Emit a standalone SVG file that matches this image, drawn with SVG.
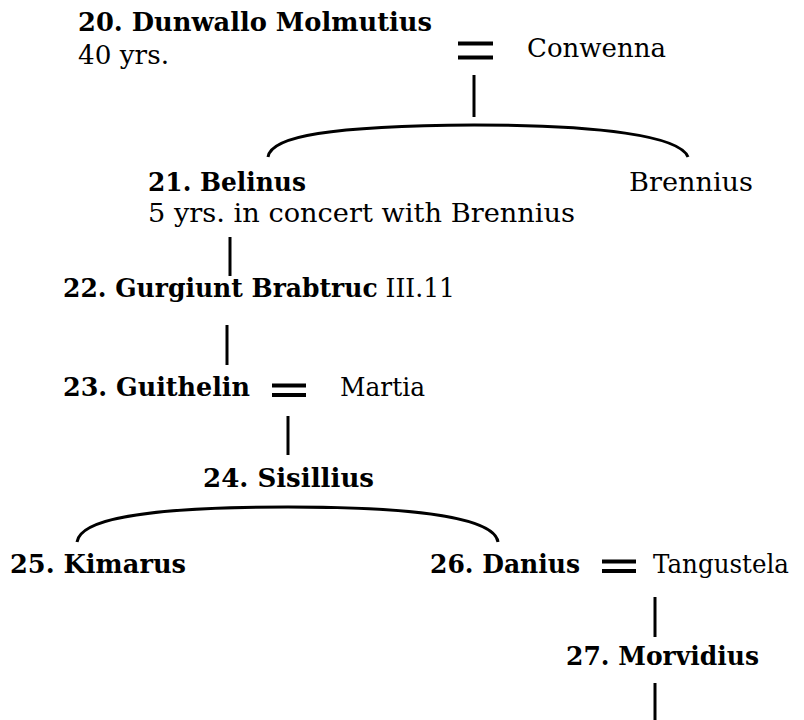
<svg xmlns="http://www.w3.org/2000/svg" width="804" height="720" viewBox="0 0 804 720">
<style>
text{font-family:"DejaVu Serif","Liberation Serif",serif;font-size:26px;fill:#000}
.b{font-weight:bold}
.ln{stroke:#000;stroke-width:3;fill:none}
.eq{stroke:#000;stroke-width:4;fill:none}
</style>
<rect width="804" height="720" fill="#fff"/>
<g id="connectors">
<path class="eq" d="M458,43.5H493M458,57.5H493"/>
<path class="ln" d="M474,75V117"/>
<path class="ln" d="M268,157C271,136 330,126 474,125C600,125 680,136 688,157"/>
<path class="ln" d="M230,237V276"/>
<path class="ln" d="M227,325V365"/>
<path class="eq" d="M272,385.5H306M272,395H306"/>
<path class="ln" d="M288,416V455"/>
<path class="ln" d="M77,542C80,520 140,507 288,507C430,507 495,520 498,542"/>
<path class="eq" d="M602,561.5H636M602,571H636"/>
<path class="ln" d="M655,597V637"/>
<path class="ln" d="M655,683V720"/>
</g>
<g id="n20"><text class="b" x="78" y="31" textLength="354" lengthAdjust="spacingAndGlyphs">20. Dunwallo Molmutius</text><text x="78" y="64" textLength="91" lengthAdjust="spacingAndGlyphs">40 yrs.</text></g>
<g id="conwenna"><text x="527" y="57" textLength="139" lengthAdjust="spacingAndGlyphs">Conwenna</text></g>
<g id="n21"><text class="b" x="148" y="191" textLength="158" lengthAdjust="spacingAndGlyphs">21. Belinus</text><text x="148" y="222" textLength="427" lengthAdjust="spacingAndGlyphs">5 yrs. in concert with Brennius</text></g>
<g id="brennius"><text x="629" y="191" textLength="124" lengthAdjust="spacingAndGlyphs">Brennius</text></g>
<g id="n22"><text x="63" y="297" textLength="392" lengthAdjust="spacingAndGlyphs"><tspan class="b">22. Gurgiunt Brabtruc</tspan> III.11</text></g>
<g id="n23"><text class="b" x="63" y="396" textLength="187" lengthAdjust="spacingAndGlyphs">23. Guithelin</text></g>
<g id="martia"><text x="340" y="396" textLength="85" lengthAdjust="spacingAndGlyphs">Martia</text></g>
<g id="n24"><text class="b" x="203" y="487" textLength="171" lengthAdjust="spacingAndGlyphs">24. Sisillius</text></g>
<g id="n25"><text class="b" x="10" y="573" textLength="176" lengthAdjust="spacingAndGlyphs">25. Kimarus</text></g>
<g id="n26"><text class="b" x="430" y="573" textLength="150" lengthAdjust="spacingAndGlyphs">26. Danius</text></g>
<g id="tangustela"><text x="653" y="573" textLength="136" lengthAdjust="spacingAndGlyphs">Tangustela</text></g>
<g id="n27"><text class="b" x="566" y="665" textLength="193" lengthAdjust="spacingAndGlyphs">27. Morvidius</text></g>
</svg>
